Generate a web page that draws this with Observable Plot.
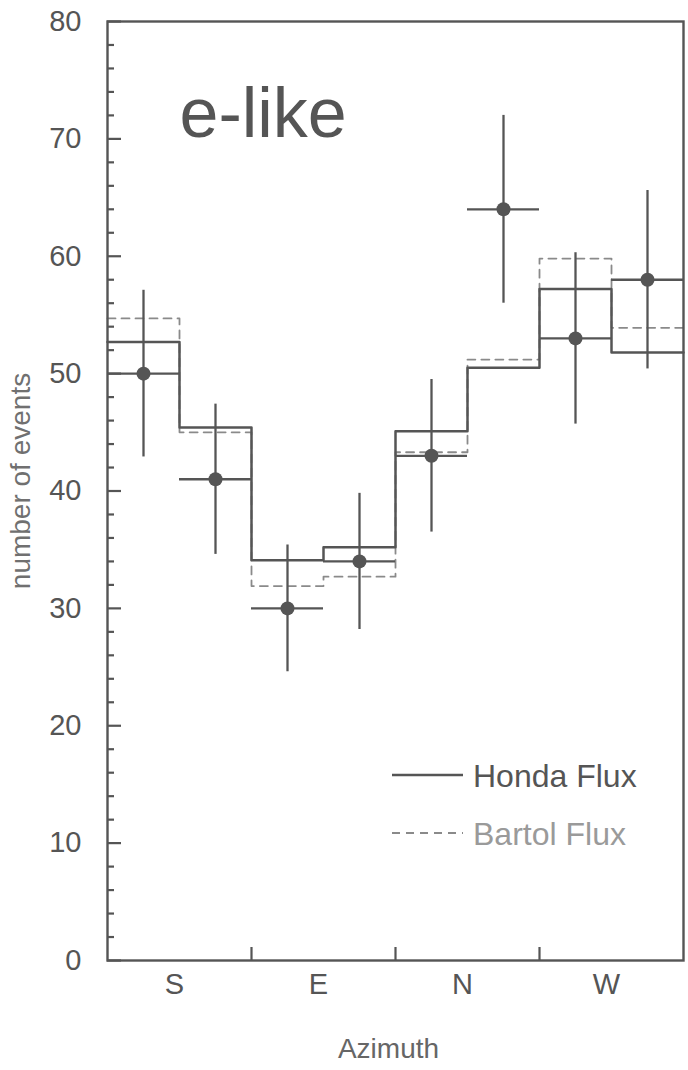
<!DOCTYPE html>
<html>
<head>
<meta charset="utf-8">
<script src="https://cdn.jsdelivr.net/npm/d3@7"></script>
<script src="https://cdn.jsdelivr.net/npm/@observablehq/plot@0.6"></script>
<style>
  body { margin: 0; background: #fff; }
  #wrap { position: relative; width: 688px; height: 1070px; }
  #legend { position: absolute; left: 0; top: 0; pointer-events: none; }
</style>
</head>
<body>
<div id="wrap"></div>
<script>
// ---- data ----
const directionLabels = ["S", "E", "N", "W"];
const directionTickPositions = [1, 3, 5, 7];
const directionBoundaryTicks = [2, 4, 6];
const binIndex = [0, 1, 2, 3, 4, 5, 6, 7];
const observed = [50, 41, 30, 34, 43, 64, 53, 58];
const observedError = [7.1, 6.4, 5.4, 5.8, 6.5, 8.0, 7.3, 7.6];
const hondaFlux = [52.7, 45.4, 34.1, 35.2, 45.1, 50.5, 57.2, 51.8];
const bartolFlux = [54.7, 45.0, 31.9, 32.7, 43.3, 51.2, 59.8, 53.9];
const yMajorTicks = [0, 10, 20, 30, 40, 50, 60, 70, 80];
const yMinorTicks = [2, 4, 6, 8, 12, 14, 16, 18, 22, 24, 26, 28, 32, 34, 36, 38, 42, 44, 46, 48, 52, 54, 56, 58, 62, 64, 66, 68, 72, 74, 76, 78];
const legendLabels = ["Honda Flux", "Bartol Flux"];
const panelTitle = "e-like";
const xLabel = "Azimuth";
const yLabel = "number of events";

// ---- derived tables ----
const points = binIndex.map((i) => ({i, v: observed[i], e: observedError[i]}));
const stepTable = (vals) => [...binIndex, binIndex.length].map((i) => ({x: i, y: vals[Math.min(i, vals.length - 1)]}));
const honda = stepTable(hondaFlux);
const bartol = stepTable(bartolFlux);

const FONT = "'Liberation Sans', Arial, Helvetica, sans-serif";
const INK = "#555";
const W = 688, H = 1070, ML = 107, MR = 5, MT = 21, MB = 110;
const frameW = W - ML - MR, frameH = H - MT - MB;

const chart = Plot.plot({
  width: W,
  height: H,
  marginLeft: ML,
  marginRight: MR,
  marginTop: MT,
  marginBottom: MB,
  style: {fontFamily: FONT, color: INK, background: "#fff"},
  x: {domain: [0, 8], axis: null},
  y: {domain: [0, 80], axis: null},
  marks: [
    // Bartol (dashed)
    Plot.line(bartol, {x: "x", y: "y", curve: "step-after", stroke: "#8a8a8a", strokeWidth: 1.8, strokeDasharray: "8,6"}),
    // Honda (solid)
    Plot.line(honda, {x: "x", y: "y", curve: "step-after", stroke: INK, strokeWidth: 2.5}),
    // data error bars
    Plot.ruleX(points, {x: (d) => d.i + 0.5, y1: (d) => d.v - d.e, y2: (d) => d.v + d.e, stroke: INK, strokeWidth: 2.3}),
    Plot.ruleY(points, {y: "v", x1: "i", x2: (d) => d.i + 1, stroke: INK, strokeWidth: 2.3}),
    Plot.dot(points, {x: (d) => d.i + 0.5, y: "v", r: 7, fill: INK, stroke: "none"}),
    // frame
    Plot.frame({stroke: INK, strokeWidth: 2.4}),
    // inward y ticks
    Plot.tickY(yMajorTicks, {y: (d) => d, insetRight: frameW - 14, stroke: INK, strokeWidth: 2.2}),
    Plot.tickY(yMinorTicks, {y: (d) => d, insetRight: frameW - 7, stroke: INK, strokeWidth: 2.2}),
    // inward x ticks
    Plot.tickX(directionBoundaryTicks, {x: (d) => d, insetTop: frameH - 13, stroke: INK, strokeWidth: 2.2}),
    // y tick labels
    Plot.axisY({ticks: yMajorTicks, tickSize: 0, tickPadding: 26, fontSize: 29, label: null, fill: INK}),
    // x tick labels
    Plot.axisX({ticks: directionTickPositions, tickSize: 0, tickPadding: 13, fontSize: 29, label: null, fill: INK,
      tickFormat: (d) => directionLabels[directionTickPositions.indexOf(d)], dx: -5}),
    // axis titles
    Plot.text([yLabel], {text: (d) => d, frameAnchor: "left", rotate: -90, textAnchor: "middle", lineAnchor: "middle",
      dx: -86, dy: -10, fontSize: 28, fill: "#707070"}),
    Plot.text([xLabel], {text: (d) => d, frameAnchor: "bottom", textAnchor: "middle", lineAnchor: "top",
      dy: 78, dx: -7, fontSize: 28, fill: "#666"}),
    // panel title
    Plot.text([panelTitle], {text: (d) => d, frameAnchor: "top-left", textAnchor: "start", lineAnchor: "top",
      dx: 72, dy: 66, fontSize: 70, fill: INK})
  ]
});

const wrap = document.getElementById("wrap");
wrap.appendChild(chart);

// legend overlay (inside the frame, lower right)
const leg = d3.select(wrap).append("svg")
  .attr("id", "legend").attr("width", W).attr("height", H)
  .style("font-family", FONT);
const legendStyles = [
  {y: 775, stroke: INK, dash: null, text: "#555"},
  {y: 833, stroke: "#8a8a8a", dash: "8,6", text: "#9a9a9a"}
];
legendLabels.forEach((lab, k) => {
  const s = legendStyles[k];
  leg.append("line").attr("x1", 392).attr("x2", 463).attr("y1", s.y).attr("y2", s.y)
    .attr("stroke", s.stroke).attr("stroke-width", k === 0 ? 2.5 : 1.8)
    .attr("stroke-dasharray", s.dash);
  leg.append("text").attr("x", 473).attr("y", s.y + 12).attr("font-size", 32)
    .attr("fill", s.text).text(lab);
});
</script>
</body>
</html>
